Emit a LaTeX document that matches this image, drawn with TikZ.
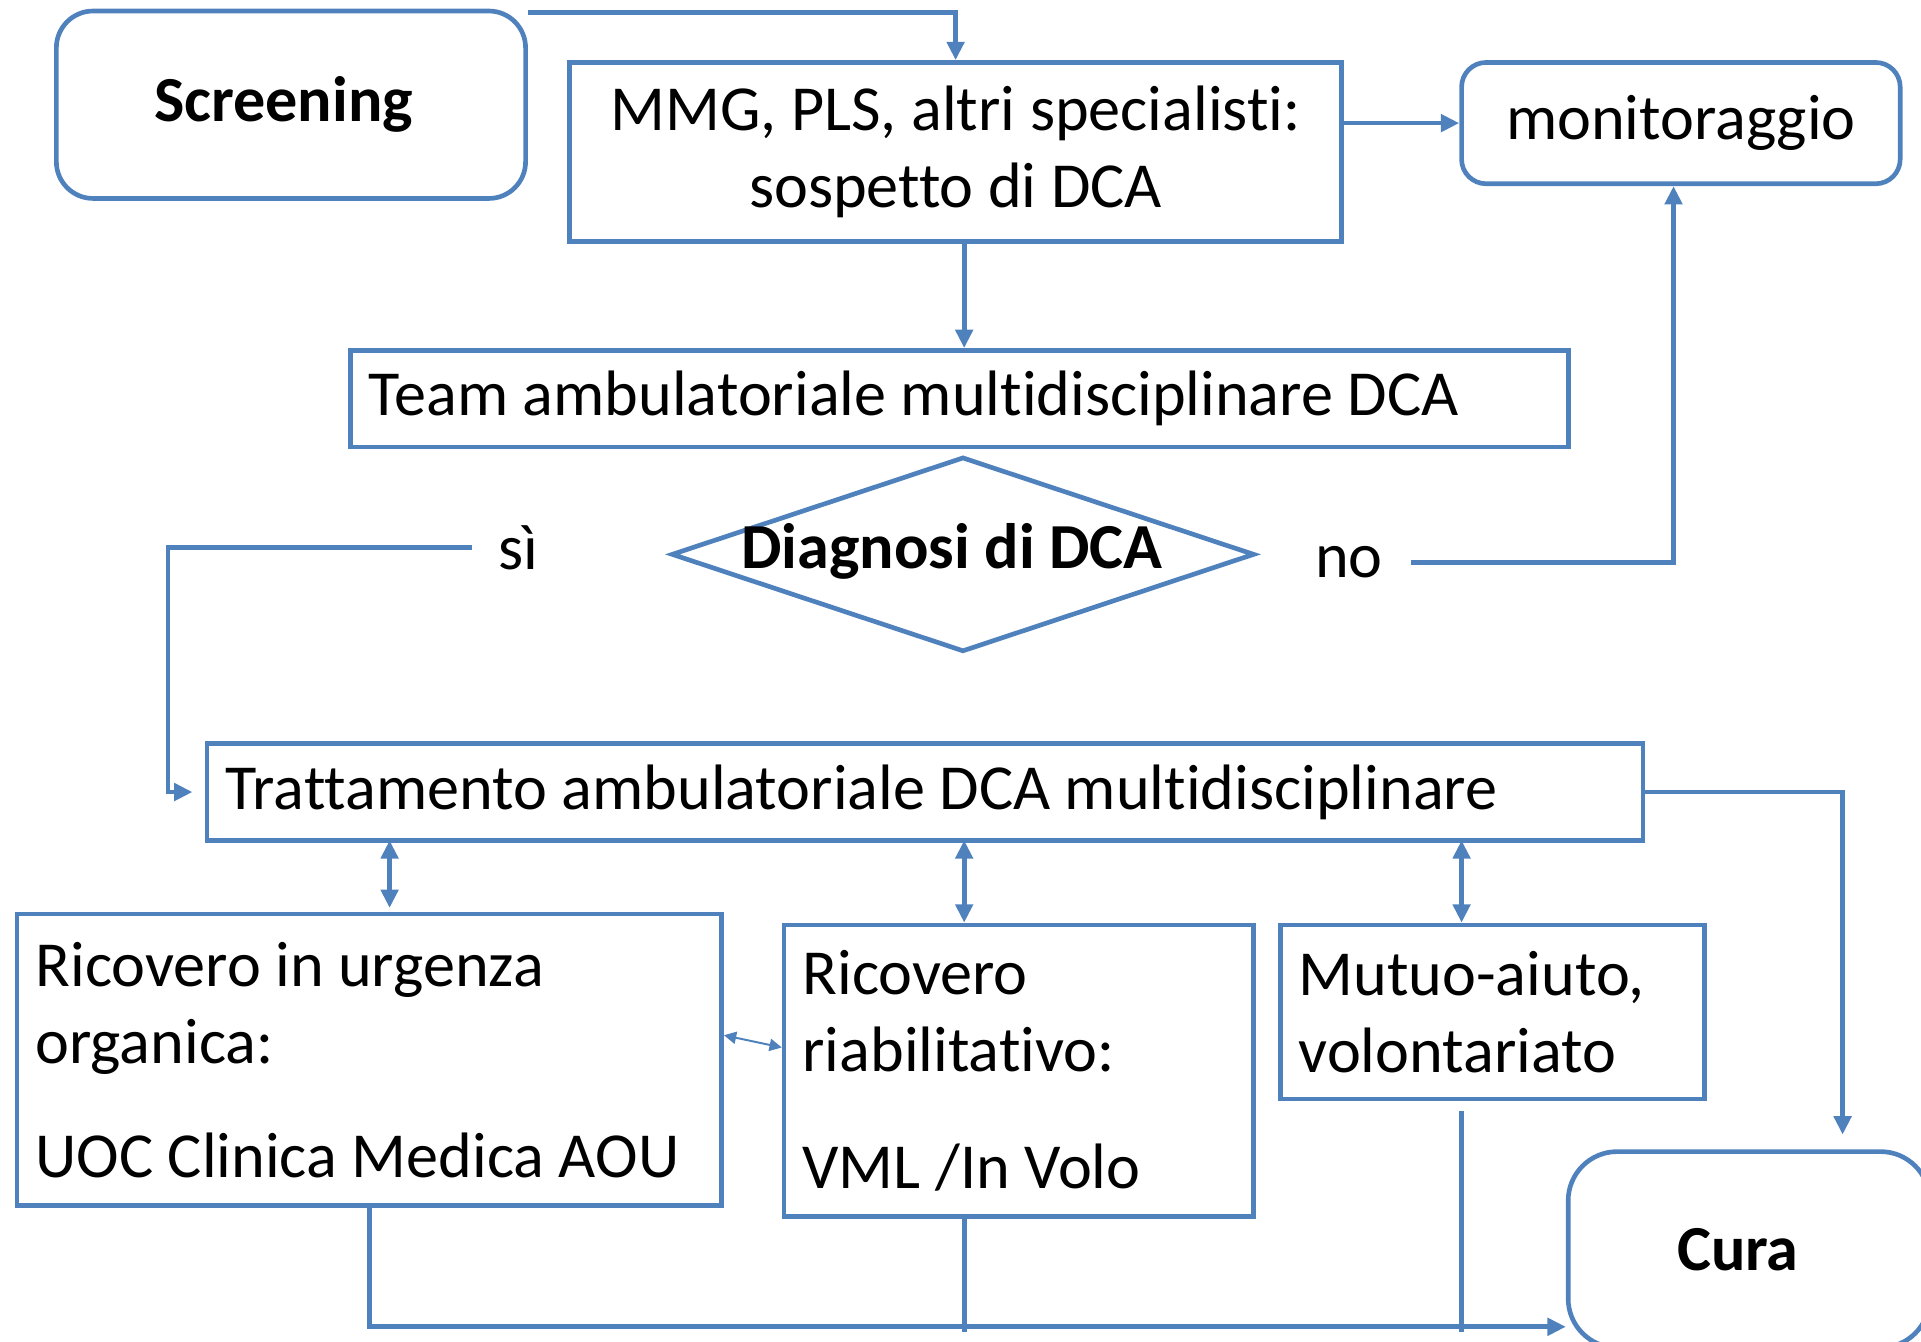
\documentclass[tikz,border=0pt]{standalone}
\usepackage{fontspec}
\setmainfont[Ligatures=NoCommon]{Carlito}
\usepackage{tikz}
\usepackage{xcolor}
\usetikzlibrary{arrows.meta}
\usetikzlibrary{shapes.geometric}

\definecolor{dcablue}{RGB}{79,129,189}
\newcommand{\dcasize}{\fontsize{26.2}{31.5}\selectfont}

\tikzset{
  box/.style={draw=dcablue, line width=1.9pt, inner xsep=7.5pt, inner ysep=0pt, font=\dcasize},
  rbox/.style={box, rounded corners=#1},
  rbox/.default=15pt,
  wire/.style={draw=dcablue, line width=1.9pt},
  link/.style={wire, -{Triangle[length=7.5pt,width=7pt]}},
  both/.style={wire, {Triangle[length=7.5pt,width=7pt]}-{Triangle[length=7.5pt,width=7pt]}},
  thinboth/.style={draw=dcablue, line width=0.8pt, {Triangle[length=5pt,width=5pt]}-{Triangle[length=5pt,width=5pt]}}
}

\begin{document}
\begin{tikzpicture}[x=0.5pt, y=-0.5pt]
\useasboundingbox (0,0) rectangle (1568,1095);
\clip (0,0) rectangle (1568,1095);

% top row
\node[rbox, minimum width=191.5pt, minimum height=76.5pt, font=\dcasize\bfseries] (screen) at (237.5,85.5) {Screening\hspace*{6pt}};
\node[box, minimum width=315pt, minimum height=73pt, align=center] (mmg) at (780,124) {MMG, PLS, altri specialisti:\\sospetto di DCA};
\node[rbox=10pt, minimum width=179pt, minimum height=49.5pt] (mon) at (1372,100.5) {monitoraggio};

\node[box, minimum width=497pt, minimum height=39.5pt, text width=482pt, align=flush left] (team) at (783,325.5) {Team ambulatoriale multidisciplinare DCA};

% decision
\node[diamond, draw=dcablue, line width=1.9pt, minimum width=238pt, minimum height=79.5pt, inner sep=0pt] (diag) at (786,452.5) {};
\node[font=\dcasize\bfseries, inner sep=0pt] (diagtext) at (777,450) {Diagnosi di DCA};
\node[font=\dcasize, inner xsep=10.5pt] (si) at (423,447) {sì};
\node[font=\dcasize, inner xsep=11.5pt] (no) at (1101,459) {no};

\node[box, minimum width=586pt, minimum height=39.5pt, text width=571pt, align=flush left] (treat) at (755,646.5) {Trattamento ambulatoriale DCA multidisciplinare};

% lower row
\node[box, minimum width=287.5pt, minimum height=119pt, text width=272.5pt, align=flush left] (urg) at (301.5,865) {Ricovero in urgenza\\organica:\\[15pt]UOC Clinica Medica AOU};
\node[box, minimum width=191.5pt, minimum height=119pt, text width=176.5pt, align=flush left] (riab) at (831.5,874) {Ricovero\\riabilitativo:\\[16pt]VML /In Volo};
\node[box, minimum width=173pt, minimum height=71pt, text width=158pt, align=flush left] (mutuo) at (1218,826) {Mutuo-aiuto,\\volontariato};
\node[rbox=20pt, minimum width=147.5pt, minimum height=80pt, font=\dcasize\bfseries] (cura) at (1427.5,1020) {Cura\hspace*{9pt}};

\coordinate (colA) at (318,0);
\coordinate (colB) at (787,0);
\coordinate (colC) at (1193,0);
\coordinate (sicol) at (137,0);
\coordinate (nocol) at (1366,0);
\coordinate (curacol) at (1504,0);
\coordinate (base) at (0,1083);

% connectors
\draw[link] ([yshift=-1.5pt]screen.north east) -| (mmg.north);
\draw[link] (mmg.east |- mon.west) -- (mon.west);
\draw[link] (mmg.south -| colB) -- (team.north -| colB);
\draw[link] (si.west) -| (sicol |- treat.west) -- ([xshift=-5pt]treat.west);
\draw[link] (no.east) -| (nocol |- mon.south);
\draw[link] (treat.east) -| ([yshift=6pt]curacol |- cura.north);

\draw[both] ([yshift=1pt]treat.south -| colA) -- ([yshift=1.5pt]urg.north -| colA);
\draw[both] ([yshift=1pt]treat.south -| colB) -- (riab.north -| colB);
\draw[both] ([yshift=1pt]treat.south -| colC) -- (mutuo.north -| colC);
\draw[thinboth] ([yshift=10pt]urg.east) -- ([yshift=9.5pt]riab.west);

\draw[link] (urg.south) |- (base -| cura.west);
\draw[wire] (riab.south -| colB) -- ([yshift=-2pt]colB |- base);
\draw[wire] ([yshift=-4pt]mutuo.south -| colC) -- ([yshift=-2pt]colC |- base);
\end{tikzpicture}
\end{document}
